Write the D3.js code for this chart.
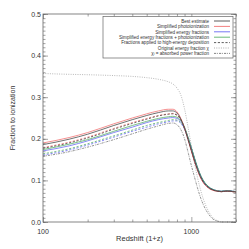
<!DOCTYPE html>
<html>
<head>
<meta charset="utf-8">
<script src="https://cdn.jsdelivr.net/npm/d3@7"></script>
<style>
  body { margin: 0; background: #fff; }
  svg text { font-family: "Liberation Sans", Arial, sans-serif; fill: #333; }
</style>
</head>
<body>
<svg id="chart" width="249" height="249"></svg>
<script>
'use strict';

// redshift grid (1+z)
var redshift = [100, 150, 200, 300, 400, 500, 600, 700, 750, 800, 850, 900, 950, 1000, 1050, 1100, 1150, 1200, 1300, 1400, 1500, 1600, 1700, 1800, 1900, 2000];

var bestEstimate = [0.186, 0.199, 0.211, 0.232, 0.246, 0.256, 0.263, 0.267, 0.267, 0.262, 0.247, 0.225, 0.198, 0.172, 0.147, 0.126, 0.109, 0.097, 0.083, 0.077, 0.074, 0.073, 0.074, 0.074, 0.073, 0.072];
var simpPhoto = [0.190, 0.203, 0.215, 0.236, 0.250, 0.260, 0.267, 0.271, 0.271, 0.265, 0.249, 0.226, 0.198, 0.170, 0.145, 0.124, 0.107, 0.095, 0.082, 0.076, 0.074, 0.073, 0.074, 0.074, 0.073, 0.072];
var simpEnergy = [0.171, 0.183, 0.195, 0.215, 0.228, 0.239, 0.246, 0.250, 0.251, 0.249, 0.242, 0.226, 0.203, 0.178, 0.153, 0.131, 0.113, 0.100, 0.085, 0.078, 0.075, 0.074, 0.075, 0.075, 0.074, 0.073];
var simpBoth = [0.174, 0.187, 0.198, 0.218, 0.232, 0.242, 0.249, 0.253, 0.254, 0.252, 0.244, 0.228, 0.204, 0.179, 0.154, 0.132, 0.114, 0.101, 0.086, 0.078, 0.075, 0.074, 0.075, 0.075, 0.074, 0.073];

// same four with fractions applied to high-energy deposition (dashed)
var hiBest = [0.177, 0.190, 0.202, 0.223, 0.237, 0.247, 0.255, 0.259, 0.260, 0.257, 0.246, 0.226, 0.200, 0.174, 0.149, 0.128, 0.111, 0.098, 0.084, 0.077, 0.074, 0.073, 0.074, 0.074, 0.073, 0.072];
var hiPhoto = [0.179, 0.192, 0.204, 0.225, 0.239, 0.249, 0.256, 0.260, 0.261, 0.257, 0.245, 0.224, 0.198, 0.171, 0.146, 0.125, 0.108, 0.096, 0.082, 0.076, 0.074, 0.073, 0.074, 0.074, 0.073, 0.072];
var hiEnergy = [0.161, 0.173, 0.185, 0.204, 0.218, 0.228, 0.236, 0.241, 0.243, 0.243, 0.237, 0.223, 0.202, 0.177, 0.152, 0.130, 0.112, 0.099, 0.085, 0.078, 0.075, 0.074, 0.075, 0.075, 0.074, 0.073];
var hiBoth = [0.164, 0.176, 0.188, 0.207, 0.221, 0.232, 0.239, 0.244, 0.246, 0.245, 0.239, 0.225, 0.203, 0.178, 0.153, 0.131, 0.113, 0.100, 0.085, 0.078, 0.075, 0.074, 0.075, 0.075, 0.074, 0.073];

var origChi = [0.357, 0.355, 0.354, 0.352, 0.350, 0.347, 0.343, 0.337, 0.332, 0.322, 0.305, 0.272, 0.228, 0.183, 0.142, 0.107, 0.079, 0.057, 0.027, 0.010, 0.003, 0.000, 0.000, 0.000, 0.000, 0.000];
var chiAbsorbed = [0.158, 0.169, 0.180, 0.198, 0.212, 0.223, 0.231, 0.237, 0.238, 0.234, 0.222, 0.200, 0.168, 0.136, 0.108, 0.082, 0.060, 0.043, 0.020, 0.007, 0.002, 0.000, 0.000, 0.000, 0.000, 0.000];

var yTicks = [0.0, 0.1, 0.2, 0.3, 0.4, 0.5];
var xTicks = [100, 1000];

var legendLabels = ['Best estimate', 'Simplified photoionization', 'Simplified energy fractions',
    'Simplified energy fractions + photoionization', 'Fractions applied to high-energy deposition',
    'Original energy fraction \u03c7', '\u03c7\u1d62 = absorbed power fraction'];

var RED = '#f06060', BLUE = '#5555f0', GREEN = '#45a855', GRAY = '#999', DARK = '#333';

var series = [
    { v: origChi, color: GRAY, dash: '1,1.3' },
    { v: chiAbsorbed, color: '#666', dash: '2.2,1,0.8,1' },
    { v: hiEnergy, color: BLUE, dash: '2.2,1.6' },
    { v: hiBoth, color: GREEN, dash: '2.2,1.6' },
    { v: hiPhoto, color: RED, dash: '2.2,1.6' },
    { v: hiBest, color: DARK, dash: '2.2,1.6' },
    { v: simpEnergy, color: BLUE, dash: null },
    { v: simpBoth, color: GREEN, dash: null },
    { v: simpPhoto, color: RED, dash: null },
    { v: bestEstimate, color: DARK, dash: null }
];

var legendStyles = [
    { color: DARK, dash: null },
    { color: RED, dash: null },
    { color: BLUE, dash: null },
    { color: GREEN, dash: null },
    { color: DARK, dash: '2.2,1.6' },
    { color: GRAY, dash: '1,1.3' },
    { color: '#666', dash: '2.2,1,0.8,1' }
];

var padL = 43, padR = 236, padT = 14, padB = 222;

var svg = d3.select('#chart');

var x = d3.scaleLog().domain([100, 2000]).range([padL, padR]);
var y = d3.scaleLinear().domain([0, 0.5]).range([padB, padT]);

var line = d3.line()
    .x(function(d) { return x(d[0]); })
    .y(function(d) { return y(d[1]); })
    .curve(d3.curveMonotoneX);

svg.append('g').selectAll('path')
    .data(series)
    .enter()
    .append('path')
    .attr('d', function(s) {
        return line(redshift.map(function(r, i) { return [r, s.v[i]]; }));
    })
    .attr('fill', 'none')
    .attr('stroke', function(s) { return s.color; })
    .attr('stroke-width', 0.7)
    .attr('stroke-dasharray', function(s) { return s.dash; });

/** Axes: ticks pointing inward on all four sides */
var axisColor = '#666';
var xMinor = d3.range(200, 1000, 100).concat([2000]);
var yMinor = d3.range(0, 0.501, 0.01);

function axisX(ypos, dir) {
    var g = svg.append('g').attr('transform', 'translate(0,' + ypos + ')');
    g.call((dir > 0 ? d3.axisBottom(x) : d3.axisTop(x)).tickValues(xMinor).tickSize(-2.5).tickFormat(''));
    g.select('.domain').remove();
    var g2 = svg.append('g').attr('transform', 'translate(0,' + ypos + ')');
    g2.call((dir > 0 ? d3.axisBottom(x) : d3.axisTop(x)).tickValues(xTicks).tickSize(-5).tickFormat(''));
    g2.select('.domain').remove();
}
function axisY(xpos, dir) {
    var g = svg.append('g').attr('transform', 'translate(' + xpos + ',0)');
    g.call((dir > 0 ? d3.axisLeft(y) : d3.axisRight(y)).tickValues(yMinor).tickSize(-2.5).tickFormat(''));
    g.select('.domain').remove();
    var g2 = svg.append('g').attr('transform', 'translate(' + xpos + ',0)');
    g2.call((dir > 0 ? d3.axisLeft(y) : d3.axisRight(y)).tickValues(yTicks).tickSize(-5).tickFormat(''));
    g2.select('.domain').remove();
}
axisX(padB, 1);
axisX(padT, -1);
axisY(padL, 1);
axisY(padR, -1);

svg.selectAll('.tick line').attr('stroke', axisColor).attr('stroke-width', 0.6);

svg.append('rect')
    .attr('x', padL).attr('y', padT)
    .attr('width', padR - padL).attr('height', padB - padT)
    .attr('fill', 'none').attr('stroke', axisColor).attr('stroke-width', 0.8);

// tick labels
svg.append('g').selectAll('text')
    .data(yTicks)
    .enter()
    .append('text')
    .attr('x', padL - 2)
    .attr('y', function(d) { return y(d) + 2.5; })
    .attr('text-anchor', 'end')
    .attr('font-size', 7)
    .text(function(d) { return d.toFixed(1); });

svg.append('g').selectAll('text')
    .data(xTicks)
    .enter()
    .append('text')
    .attr('x', function(d) { return x(d); })
    .attr('y', padB + 12)
    .attr('text-anchor', 'middle')
    .attr('font-size', 7)
    .text(function(d) { return d; });

svg.append('text')
    .attr('x', (padL + padR) / 2)
    .attr('y', 241)
    .attr('text-anchor', 'middle')
    .attr('font-size', 7.5)
    .text('Redshift (1+z)');

svg.append('text')
    .attr('transform', 'translate(14.5,' + ((padT + padB) / 2) + ') rotate(-90)')
    .attr('text-anchor', 'middle')
    .attr('font-size', 7)
    .text('Fraction to ionization');

/* LEGEND */
var lg = svg.append('g');
lg.append('rect')
    .attr('x', 103).attr('y', 16.5)
    .attr('width', 130).attr('height', 41.5)
    .attr('fill', '#fff').attr('stroke', '#666').attr('stroke-width', 0.7);

var rows = lg.selectAll('g.row')
    .data(legendLabels)
    .enter()
    .append('g')
    .attr('class', 'row')
    .attr('transform', function(d, i) { return 'translate(0,' + (21 + i * 5.4) + ')'; });

rows.append('text')
    .attr('x', 209)
    .attr('y', 1.7)
    .attr('text-anchor', 'end')
    .attr('font-size', 4.6)
    .text(function(d) { return d; });

rows.append('line')
    .attr('x1', 214).attr('x2', 230)
    .attr('y1', 0).attr('y2', 0)
    .attr('stroke', function(d, i) { return legendStyles[i].color; })
    .attr('stroke-width', 0.8)
    .attr('stroke-dasharray', function(d, i) { return legendStyles[i].dash; });
</script>
</body>
</html>
